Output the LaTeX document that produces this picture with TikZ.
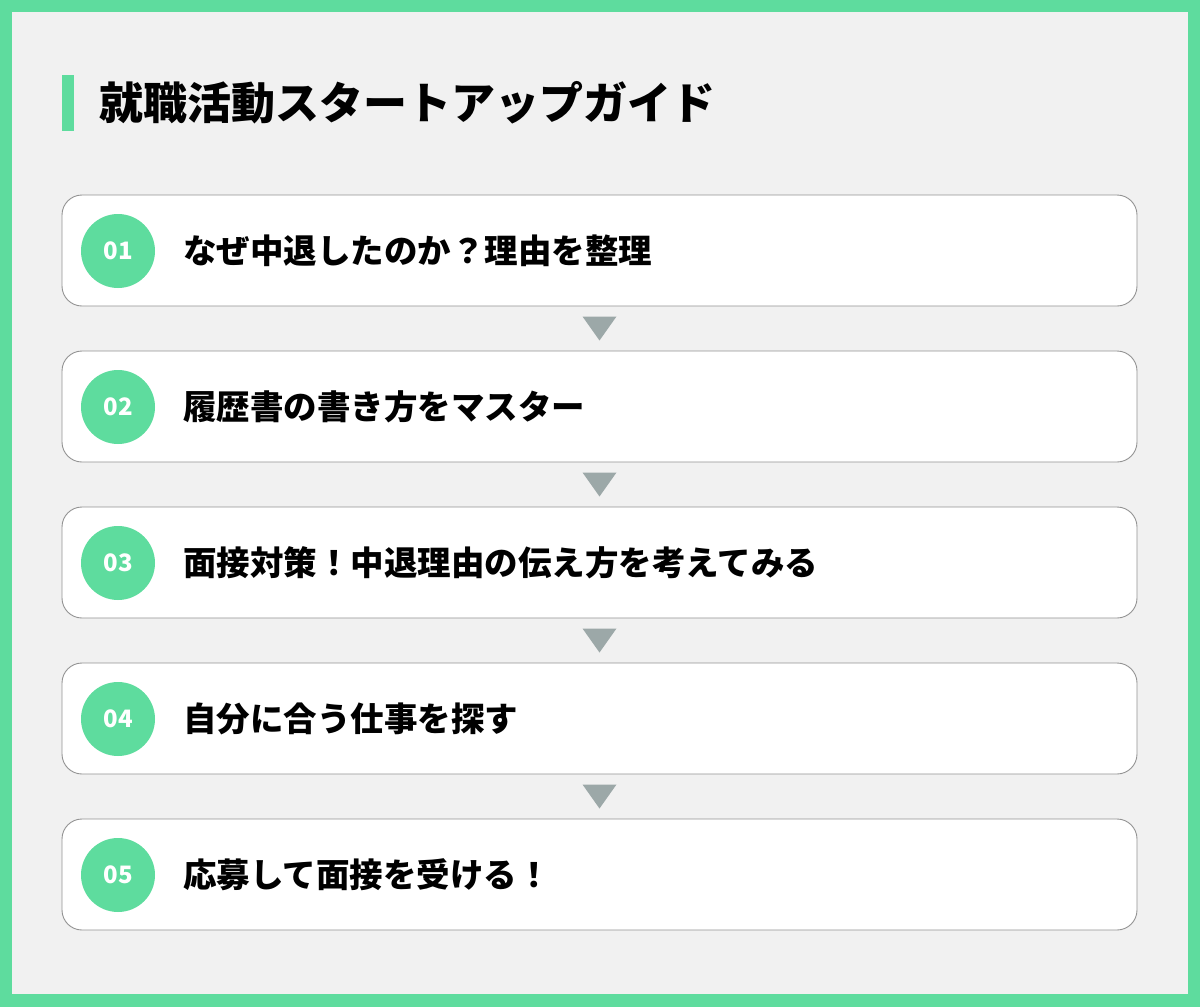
\documentclass[tikz,border=0pt]{standalone}
\usepackage{fontspec}
\setmainfont{Noto Sans CJK JP}
\usetikzlibrary{calc}
\definecolor{brandgreen}{HTML}{5EDC9E}
\definecolor{pagegray}{HTML}{F1F1F1}
\definecolor{boxline}{HTML}{939393}
\definecolor{arrowgray}{HTML}{9CA8A8}
\tikzset{
  stepbox/.style={draw=boxline, line width=0.9pt, fill=white, rounded corners=20pt,
    minimum width=1075pt, minimum height=111pt, inner sep=0pt},
  numdot/.style={circle, fill=brandgreen, minimum size=74pt, inner sep=0pt,
    text=white, font=\fontsize{24pt}{24pt}\selectfont\bfseries},
  steptext/.style={anchor=west, inner sep=0pt, text=black,
    font=\fontsize{33.5pt}{34pt}\selectfont\bfseries},
  downtri/.style={fill=arrowgray}
}
\begin{document}
\begin{tikzpicture}[x=1pt,y=-1pt]
\useasboundingbox (0,0) rectangle (1200,1007);
\fill[brandgreen] (0,0) rectangle (1200,1007);
\fill[pagegray] (12,12) rectangle (1188,994);
% title
\fill[brandgreen] (62,75) rectangle (74,131);
\node[anchor=west, inner sep=0pt, font=\fontsize{44pt}{44pt}\selectfont\bfseries] (title) at (99,103) {就職活動スタートアップガイド};
% boxes
\foreach \i/\t in {1/なぜ中退したのか？理由を整理,
                   2/履歴書の書き方をマスター,
                   3/面接対策！中退理由の伝え方を考えてみる,
                   4/自分に合う仕事を探す,
                   5/応募して面接を受ける！}{
  \node[stepbox] (b\i) at (599.5,{250.5+156*(\i-1)}) {};
  \node[numdot] (n\i) at (118,{251+156*(\i-1)}) {0\i};
  \node[steptext] (t\i) at (183,{251+156*(\i-1)}) {\t};
}
% arrows between boxes
\foreach \a/\b in {1/2,2/3,3/4,4/5}{
  \coordinate (m\a) at ($(b\a.south)!0.5!(b\b.north)$);
  \fill[downtri] ($(m\a)+(-17,-12)$) -- ($(m\a)+(17,-12)$) -- ($(m\a)+(0,12)$) -- cycle;
}
\end{tikzpicture}
\end{document}
